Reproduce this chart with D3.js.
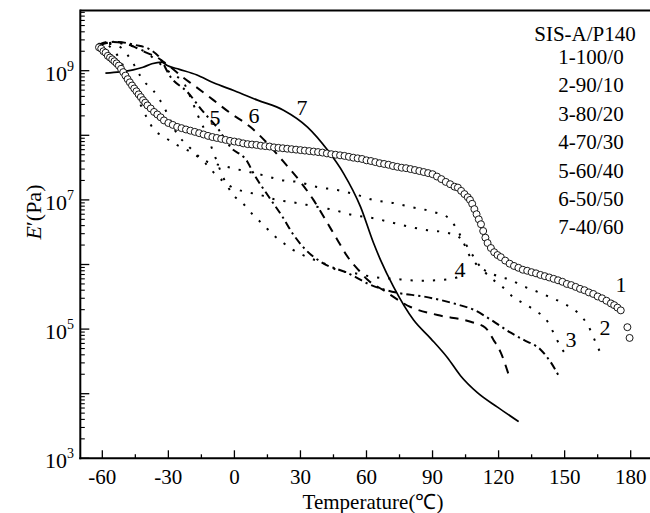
<!DOCTYPE html>
<html>
<head>
<meta charset="utf-8">
<script src="https://cdnjs.cloudflare.com/ajax/libs/d3/7.8.5/d3.min.js"></script>
<style>
  body { margin: 0; background: #fff; }
  text { font-family: "Liberation Serif", "Times New Roman", serif; fill: #000; }
</style>
</head>
<body>
<svg id="chart"></svg>
<script>
// curve 1 (open circles): temperature (C) and E' (Pa)
const temp1 = [-61.5,-60.5,-59.5,-58.5,-57.5,-56.5,-55.5,-54.5,-53.5,-52.5,-51.5,-50.5,-49.5,-48.5,-47.5,-46.5,-45.5,-44.5,-43.5,-42.5,-41.5,-40.5,-39.5,-38,-36.5,-35,-33.5,-32,-30,-28,-26,-24,-22,-20,-18,-16,-14,-12,-10,-8,-6,-4,-2,0,2,4,6,8,10,12,14,16,18,20,22,24,26,28,30,32,34,36,38,40,42,44,46,48,50,52,54,56,58,60,62,64,66,68,70,72,74,76,78,80,82,84,86,88,90,92,94,96,98,100,101.5,103,104.5,106,107,108,109,110,111,112,113,114,115,116.5,118,119.5,121,123,125,127,129,131,133,135,137,139,141,143,145,147,149,151,153,155,157,159,161,163,165,167,169,171,172.5,174,175.5,178.5,179.5];
const mod1 = [2.3e9,2.2e9,2.0e9,1.9e9,1.7e9,1.6e9,1.5e9,1.4e9,1.3e9,1.2e9,1.07e9,9.5e8,8.4e8,7.4e8,6.6e8,5.9e8,5.3e8,4.8e8,4.3e8,3.9e8,3.5e8,3.2e8,2.9e8,2.6e8,2.3e8,2.1e8,1.9e8,1.7e8,1.55e8,1.45e8,1.35e8,1.29e8,1.23e8,1.18e8,1.13e8,1.08e8,1.03e8,9.8e7,9.4e7,9.1e7,8.8e7,8.5e7,8.2e7,8.0e7,7.8e7,7.5e7,7.3e7,7.2e7,7.1e7,6.9e7,6.8e7,6.7e7,6.5e7,6.4e7,6.3e7,6.2e7,6.1e7,6.0e7,5.9e7,5.8e7,5.7e7,5.6e7,5.5e7,5.4e7,5.25e7,5.1e7,5.0e7,4.9e7,4.8e7,4.65e7,4.5e7,4.4e7,4.3e7,4.1e7,4.0e7,3.85e7,3.7e7,3.6e7,3.5e7,3.35e7,3.25e7,3.15e7,3.1e7,3.0e7,2.9e7,2.8e7,2.7e7,2.6e7,2.5e7,2.3e7,2.1e7,1.9e7,1.75e7,1.6e7,1.55e7,1.38e7,1.23e7,1.1e7,1.0e7,8.7e6,7.2e6,6.0e6,5.0e6,4.2e6,3.3e6,2.6e6,2.15e6,1.8e6,1.55e6,1.4e6,1.3e6,1.15e6,1.03e6,9.5e5,8.9e5,8.3e5,8.0e5,7.6e5,7.3e5,6.9e5,6.6e5,6.3e5,6.0e5,5.7e5,5.4e5,5.0e5,4.8e5,4.5e5,4.2e5,4.0e5,3.7e5,3.5e5,3.2e5,3.0e5,2.75e5,2.5e5,2.35e5,2.15e5,1.95e5,1.07e5,7.3e4];

// curves 2..7 (lines)
const temp2 = [-62,-58,-54,-50,-46,-42.5,-39.5,-36.8,-32,-26.5,-21.4,-12.3,-7.3,2.7,13.2,22.3,28.6,37.7,46.8,55.9,63.2,72.3,80,90.5,96.8,100.5,103.6,105.9,110,115,120.9,125.5,130,135.9,143.6,149.5,155.9,160.5,165,167.3];
const mod2 = [2.6e9,2.5e9,1.9e9,1.1e9,5.5e8,2.9e8,1.8e8,1.25e8,9.5e7,7.2e7,5.9e7,3.9e7,3.5e7,2.9e7,2.4e7,2.0e7,1.9e7,1.58e7,1.42e7,1.19e7,9.95e6,8.95e6,7.8e6,6.5e6,5.4e6,3.8e6,2.4e6,1.56e6,1.0e6,7.7e5,6.4e5,5.8e5,4.8e5,4.0e5,3.1e5,2.5e5,1.8e5,1.16e5,5.3e4,3.6e4];
const temp3 = [-62,-56,-51,-46,-41.5,-37,-33.8,-30,-27,-20,-13.2,-10.9,-5.5,-0.5,5.9,11.8,19.5,25.5,35.9,45,54.1,63.2,72.3,80,87.7,96.8,103.6,107.3,110.5,116.4,120.9,126.8,131.4,135.9,142.3,145,148.2,151.4];
const mod3 = [2.6e9,2.6e9,2.2e9,1.3e9,7.1e8,5.0e8,3.5e8,2.0e8,1.2e8,6.3e7,3.7e7,3.0e7,2.0e7,1.53e7,1.32e7,1.19e7,9.95e6,9.3e6,8.0e6,7.0e6,5.8e6,5.2e6,4.4e6,3.8e6,3.4e6,3.1e6,2.4e6,1.56e6,1.05e6,6.2e5,4.8e5,3.1e5,2.5e5,2.0e5,1.3e5,8.7e4,5.3e4,3.7e4];
const temp4 = [-62,-55,-48,-40,-34,-29,-23,-20,-16.5,-13,-8.6,-5.5,-0.5,3.6,8.6,13.2,17.7,22.3,26.8,33.2,40.5,46.8,54.1,63.2,72.3,84.5,96.8,101,104];
const mod4 = [2.6e9,2.7e9,2.5e9,1.9e9,1.3e9,9.2e8,6.5e8,3.9e8,2.0e8,1.1e8,4.5e7,2.4e7,1.19e7,9.0e6,5.8e6,4.1e6,2.86e6,2.15e6,1.67e6,1.3e6,1.05e6,8.2e5,7.4e5,6.4e5,6.0e5,5.6e5,5.9e5,6.3e5,7.5e5];
const temp5 = [-61,-54,-45,-38,-34,-29,-21.4,-14.1,-7.7,-1.8,5.9,8.6,15,21.8,26.8,32.3,40,51.4,61.8,74.1,85.9,101.4,108.6,116.4,125.5,131.4,139.1,143.6,147.3];
const mod5 = [2.5e9,2.8e9,2.5e9,2.1e9,1.6e9,8.0e8,4.7e8,2.3e8,1.3e8,6.6e7,3.9e7,2.6e7,1.2e7,5.5e6,2.9e6,1.7e6,1.06e6,7.4e5,4.85e5,3.65e5,3.2e5,2.4e5,2.0e5,1.4e5,8.8e4,6.8e4,4.8e4,3.1e4,1.9e4];
const temp6 = [-62,-57,-51,-45,-40,-35,-32,-29,-24,-18.6,-9.5,-1.8,7.3,15,22.3,30,35.9,41.4,46.8,51.8,56,60.5,67.7,80,92.3,107.3,114,117.7,120.9,124.5];
const mod6 = [2.5e9,2.8e9,2.7e9,2.3e9,1.9e9,1.6e9,1.36e9,1.14e9,8.2e8,6.0e8,3.5e8,2.2e8,1.34e8,7.5e7,3.9e7,1.9e7,1.0e7,4.9e6,2.4e6,1.26e6,8.5e5,5.8e5,4.0e5,2.2e5,1.65e5,1.3e5,1.05e5,6.8e4,4.4e4,2.0e4];
const temp7 = [-58.6,-52,-46,-41.5,-37.5,-33,-30.5,-25,-17,-9.5,0,10.5,22.3,33.2,42.3,49.5,57.3,63.2,66.4,72.3,81.4,89.1,96.8,102.7,110.5,119.5,129.1];
const mod7 = [9.2e8,9.6e8,1.03e9,1.13e9,1.28e9,1.36e9,1.2e9,1.05e9,8.6e8,6.5e8,4.9e8,3.5e8,2.45e8,1.34e8,5.9e7,2.6e7,7.8e6,2.15e6,1.17e6,4.5e5,1.38e5,7.2e4,3.6e4,1.9e4,1.03e4,6.2e3,3.7e3];

// legend and curve number labels
const legendTitle = "SIS-A/P140";
const legendItems = ["1-100/0", "2-90/10", "3-80/20", "4-70/30", "5-60/40", "6-50/50", "7-40/60"];
const curveNames = ["1", "2", "3", "4", "5", "6", "7"];
const curveNameT = [175.6, 168.3, 152.9, 102.5, -8.8, 8.9, 30.7];
const curveNameE = [3.75e5, 8.1e4, 5.3e4, 6.4e5, 1.45e8, 1.55e8, 2.06e8];

const xTicks = [-60, -30, 0, 30, 60, 90, 120, 150, 180];
const xMinor = [-45, -15, 15, 45, 75, 105, 135, 165];
const yLabelExp = [3, 5, 7, 9];

let width = 650;
let height = 513;
let plotLeft = 80.3, plotTop = 10.5, plotBottom = 458.3;

const svg = d3.select("#chart").attr("width", width).attr("height", height);

const x = d3.scaleLinear().domain([-70, 190]).range([plotLeft, 652.7]);
const y = d3.scaleLog().domain([1e3, 1e9]).range([plotBottom, 70.7]);

const zip = (t, m) => t.map((v, i) => [v, m[i]]);

const line = d3.line()
    .x(d => x(d[0]))
    .y(d => y(d[1]))
    .curve(d3.curveMonotoneX);

svg.append("clipPath").attr("id", "clip")
    .append("rect").attr("x", plotLeft).attr("y", plotTop)
    .attr("width", width - plotLeft).attr("height", plotBottom - plotTop);

const plot = svg.append("g").attr("clip-path", "url(#clip)");

// line series, style per curve
const series = [
    { d: zip(temp2, mod2), dash: "2.2,9" },
    { d: zip(temp3, mod3), dash: "2.2,9" },
    { d: zip(temp4, mod4), dash: "2.2,9" },
    { d: zip(temp5, mod5), dash: "8,4,2.2,4" },
    { d: zip(temp6, mod6), dash: "9,7" },
    { d: zip(temp7, mod7), dash: null }
];

series.forEach(s => {
    plot.append("path")
        .datum(s.d)
        .attr("d", line)
        .attr("fill", "none")
        .attr("stroke", "#000")
        .attr("stroke-width", s.dash ? 2 : 1.7)
        .attr("stroke-dasharray", s.dash);
});

// circles for curve 1
plot.selectAll("circle.c1")
    .data(zip(temp1, mod1))
    .enter().append("circle")
    .attr("class", "c1")
    .attr("cx", d => x(d[0]))
    .attr("cy", d => y(d[1]))
    .attr("r", 3.5)
    .attr("fill", "#fff")
    .attr("stroke", "#000")
    .attr("stroke-width", 0.9);

// axes frame
svg.append("line").attr("x1", plotLeft).attr("x2", plotLeft).attr("y1", plotTop - 1).attr("y2", plotBottom + 1)
    .attr("stroke", "#000").attr("stroke-width", 2);
svg.append("line").attr("x1", plotLeft).attr("x2", width).attr("y1", plotTop).attr("y2", plotTop)
    .attr("stroke", "#000").attr("stroke-width", 2);
svg.append("line").attr("x1", plotLeft - 1).attr("x2", width).attr("y1", plotBottom).attr("y2", plotBottom)
    .attr("stroke", "#000").attr("stroke-width", 2);

// x ticks (inward)
svg.selectAll("line.xmaj").data(xTicks).enter().append("line")
    .attr("x1", d => x(d)).attr("x2", d => x(d))
    .attr("y1", plotBottom).attr("y2", plotBottom - 8)
    .attr("stroke", "#000").attr("stroke-width", 1.3);
svg.selectAll("line.xmin").data(xMinor).enter().append("line")
    .attr("x1", d => x(d)).attr("x2", d => x(d))
    .attr("y1", plotBottom).attr("y2", plotBottom - 4)
    .attr("stroke", "#000").attr("stroke-width", 1.3);
svg.selectAll("text.xlab").data(xTicks).enter().append("text")
    .attr("x", d => x(d)).attr("y", plotBottom + 26)
    .attr("text-anchor", "middle")
    .style("font-size", "21px")
    .text(d => d);

// y ticks (inward)
const yMajor = d3.range(3, 10).map(k => Math.pow(10, k));
const yMinor = [];
for (let k = 3; k <= 9; k++) {
    for (let m = 2; m <= 9; m++) {
        const v = m * Math.pow(10, k);
        if (y(v) >= plotTop + 1) yMinor.push(v);
    }
}
svg.selectAll("line.ymaj").data(yMajor).enter().append("line")
    .attr("x1", plotLeft).attr("x2", plotLeft + 9)
    .attr("y1", d => y(d)).attr("y2", d => y(d))
    .attr("stroke", "#000").attr("stroke-width", 1.3);
svg.selectAll("line.ymin").data(yMinor).enter().append("line")
    .attr("x1", plotLeft).attr("x2", plotLeft + 4.5)
    .attr("y1", d => y(d)).attr("y2", d => y(d))
    .attr("stroke", "#000").attr("stroke-width", 1.1);

const ylab = svg.selectAll("text.ylab").data(yLabelExp).enter().append("text")
    .attr("x", 74).attr("y", d => y(Math.pow(10, d)) + 10)
    .attr("text-anchor", "end")
    .style("font-size", "22px");
ylab.append("tspan").text("10");
ylab.append("tspan").attr("dy", -10).style("font-size", "14px").text(d => d);

// axis titles
svg.append("text")
    .attr("x", 373).attr("y", 509)
    .attr("text-anchor", "middle")
    .style("font-size", "21px")
    .text("Temperature(℃)");

const ytitle = svg.append("text")
    .attr("transform", "translate(41,212) rotate(-90)")
    .attr("text-anchor", "middle")
    .style("font-size", "22px");
ytitle.append("tspan").style("font-style", "italic").text("E");
ytitle.append("tspan").text("′(Pa)");

// legend (text only)
svg.append("text")
    .attr("x", 585).attr("y", 41)
    .attr("text-anchor", "middle")
    .style("font-size", "21px")
    .text(legendTitle);
svg.selectAll("text.leg").data(legendItems).enter().append("text")
    .attr("x", 591).attr("y", (d, i) => 64 + i * 28.4)
    .attr("text-anchor", "middle")
    .style("font-size", "21px")
    .text(d => d);

// curve numbers
svg.selectAll("text.cname").data(curveNames).enter().append("text")
    .attr("x", (d, i) => x(curveNameT[i]))
    .attr("y", (d, i) => y(curveNameE[i]))
    .attr("text-anchor", "middle")
    .style("font-size", "22px")
    .text(d => d);
</script>
</body>
</html>
